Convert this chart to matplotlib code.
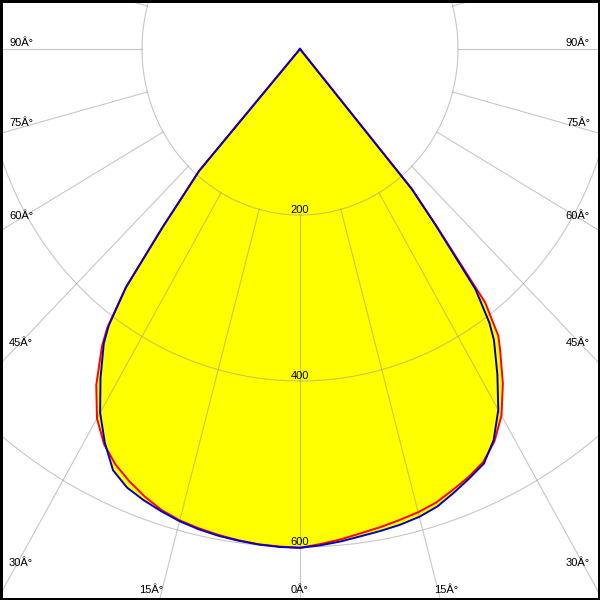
import numpy as np
import matplotlib
matplotlib.use("Agg")
import matplotlib.pyplot as plt

# ---- data (luminous intensity) ----
gamma = [0, 2.5, 5, 7.5, 10, 12.5, 15, 17.5, 20, 22.5, 25, 27.5, 30, 32.5,
         35, 36, 37.5, 39, 40, 41, 42, 50, 60, 70, 80, 90]
blue_left = [601, 600.5, 599.3, 597.5, 595.5, 592.7, 589, 584, 578.5, 572,
             560, 535, 506, 470, 433, 412, 362, 277, 228, 195, 0,
             0, 0, 0, 0, 0]
blue_right = [601, 598.5, 595.5, 592, 589.5, 587, 583.5, 578, 569, 560,
              551, 531, 502, 465, 428, 408, 365, 272, 220, 0, 0,
              0, 0, 0, 0, 0]
red_left = [601, 600, 599, 597, 594.5, 591.5, 588, 582.5, 574, 564,
            552.5, 537, 514, 480, 437, 415, 362, 277, 228, 195, 0,
            0, 0, 0, 0, 0]
red_right = [601, 597, 593, 588.5, 585, 581.3, 577.8, 573, 565.3, 558,
             549, 533, 510, 478, 441.5, 427, 385, 275, 220, 0, 0,
             0, 0, 0, 0, 0]

ring_values = [200, 400, 600]
ring_labels = ["200", "400", "600"]
angle_labels = ["0Â°", "15Â°", "30Â°", "45Â°", "60Â°", "75Â°", "90Â°"]

# ---- layout ----
W = 600
cx, cy = 300, 49          # pole position in pixels
sx, sy = 0.79, 0.83       # pixels per intensity unit (x, y)

fig = plt.figure(figsize=(6, 6), dpi=100)
ax = fig.add_axes([0, 0, 1, 1])
ax.set_xlim(-cx / sx, (W - cx) / sx)
ax.set_ylim(-(W - cy) / sy, cy / sy)
ax.set_xticks([])
ax.set_yticks([])
for s in ax.spines.values():
    s.set_linewidth(3.6)
    s.set_color("black")
    s.set_zorder(10)


def to_xy(theta_deg, inten):
    th = np.radians(np.asarray(theta_deg, dtype=float))
    r = np.asarray(inten, dtype=float)
    return r * np.sin(th), -r * np.cos(th)


def full_curve(left, right):
    g = np.asarray(gamma, dtype=float)
    ang = np.concatenate([-g[::-1], g[1:]])
    val = np.concatenate([np.asarray(left)[::-1], np.asarray(right)[1:]])
    return to_xy(ang, val)


xr, yr = full_curve(red_left, red_right)
xb, yb = full_curve(blue_left, blue_right)

ax.fill(xr, yr, color="#ffff00", lw=0, zorder=1)
ax.fill(xb, yb, color="#ffff00", lw=0, zorder=1)

grid_kw = dict(color="#909090", lw=0.8, alpha=0.5, zorder=2)
t = np.linspace(0, 360, 1441)
for r in ring_values:
    ax.plot(*to_xy(t, np.full_like(t, r)), **grid_kw)
for a in range(0, 360, 15):
    ax.plot(*to_xy([a, a], [200, 1500]), **grid_kw)

ax.plot(xr, yr, color="#ff0000", lw=1.4, zorder=3, solid_joinstyle="round")
ax.plot(xb, yb, color="#0000c8", lw=1.4, zorder=4, solid_joinstyle="round")

font = dict(family="Liberation Sans", fontsize=8, color="black")
for r, lbl in zip(ring_values, ring_labels):
    ax.annotate(lbl, (0, -r), xytext=(0, 1.6), textcoords="offset points",
                ha="center", va="baseline", zorder=5, **font)


def put(px, py, s, ha):
    fig.text(px / W, 1 - py / W, s, ha=ha, va="baseline", zorder=6, **font)


# side labels (30..90) at the image edges
side_base = {"30Â°": 565.5, "45Â°": 345.7, "60Â°": 219, "75Â°": 126, "90Â°": 46}
for lbl in angle_labels[2:]:
    put(9, side_base[lbl], lbl, "left")
    put(590, side_base[lbl], lbl, "right")
put(300, 593, angle_labels[0], "center")
put(163, 593, angle_labels[1], "right")
put(434, 593, angle_labels[1], "left")

fig.savefig("out.png", dpi=100)
